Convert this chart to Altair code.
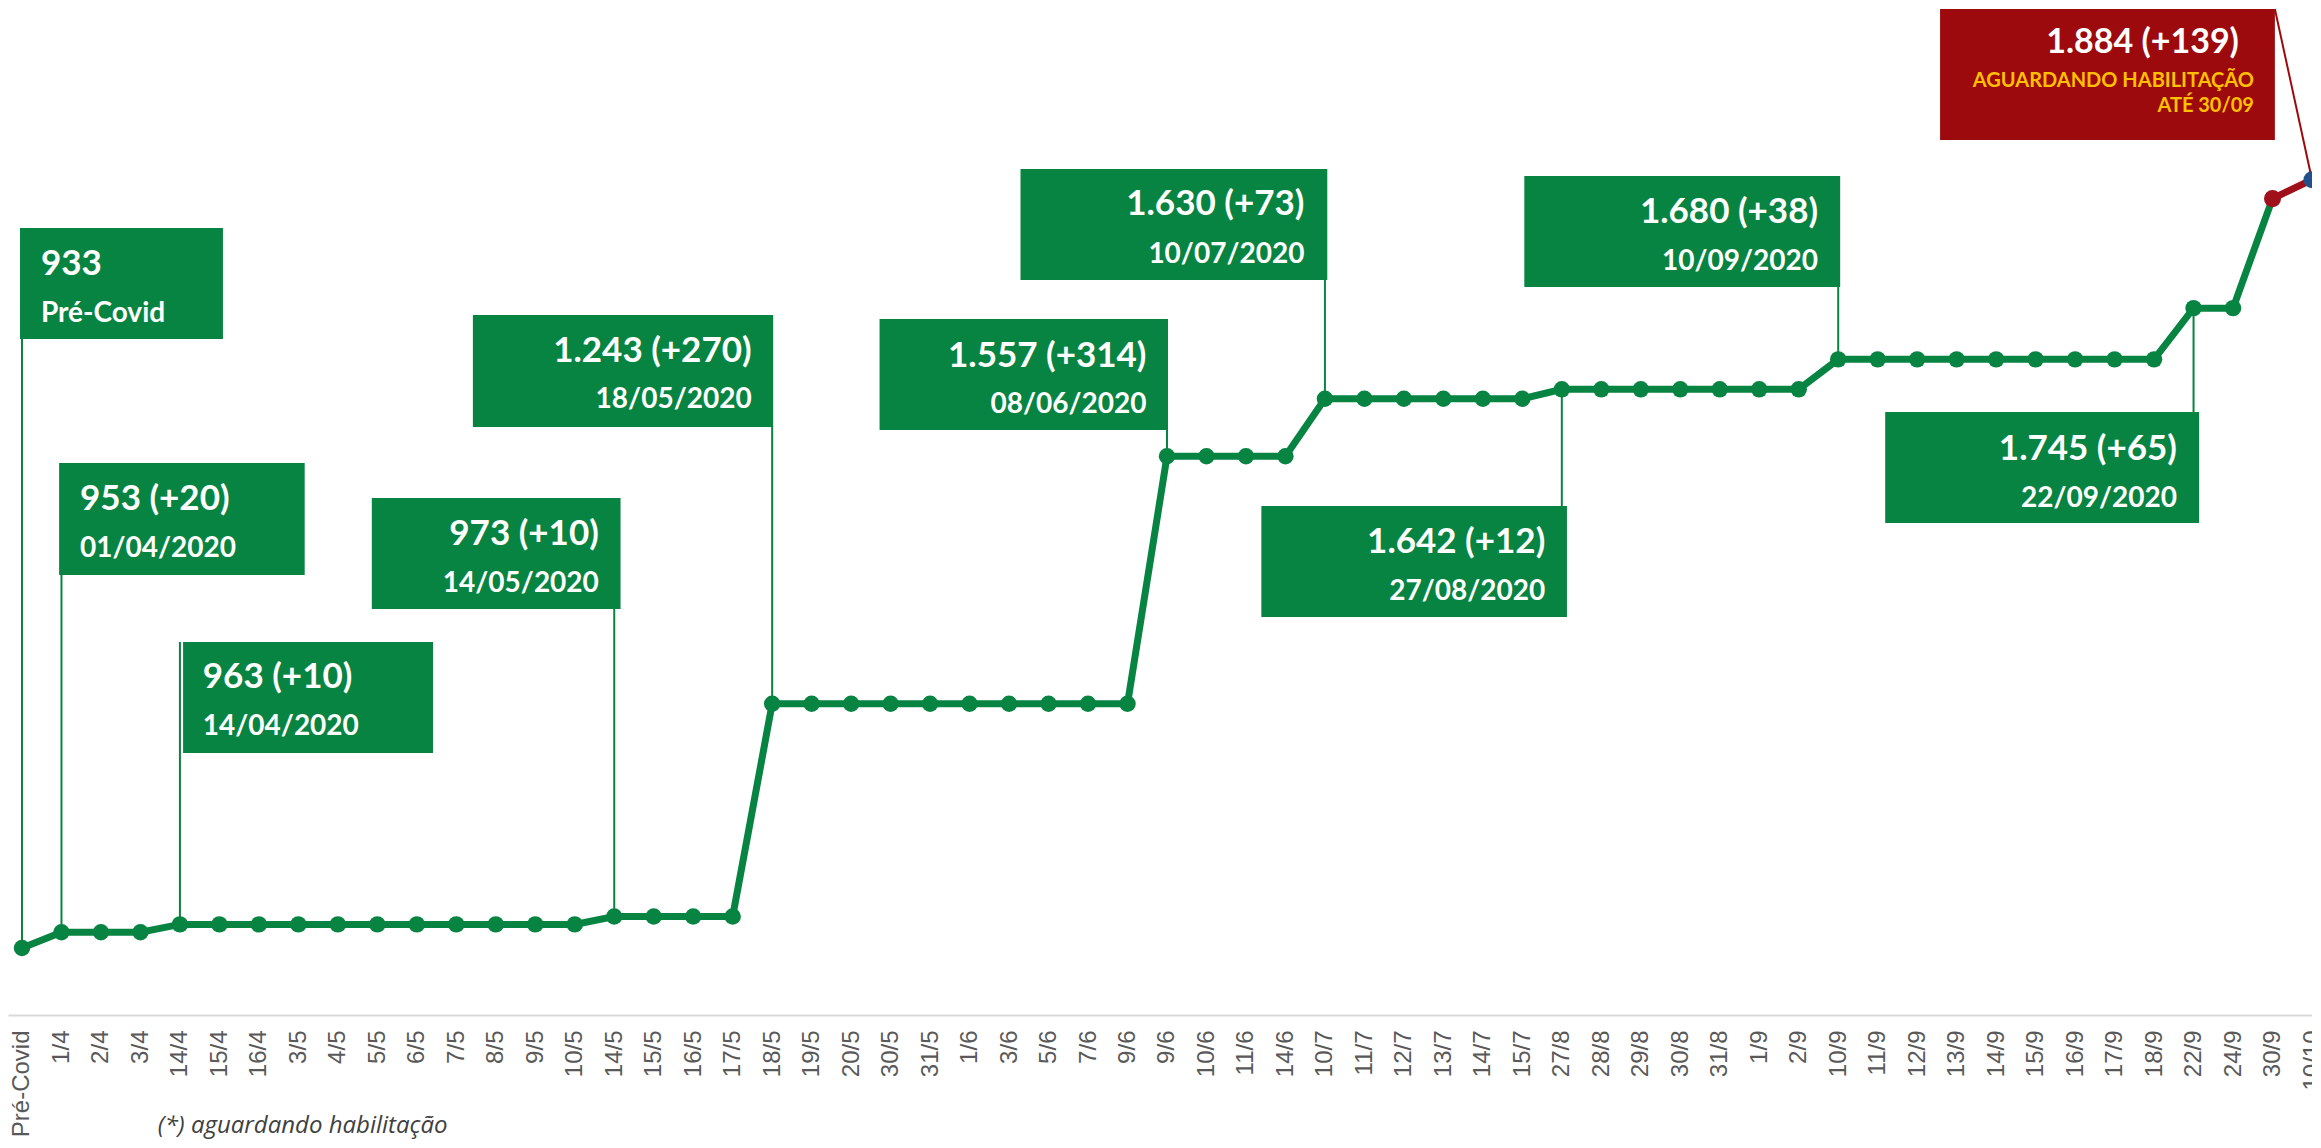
import json
import altair as alt
import pandas as pd

# ---------------- data ----------------
labels = ["Pré-Covid", "1/4", "2/4", "3/4", "14/4", "15/4", "16/4", "3/5", "4/5", "5/5",
          "6/5", "7/5", "8/5", "9/5", "10/5", "14/5", "15/5", "16/5", "17/5", "18/5",
          "19/5", "20/5", "30/5", "31/5", "1/6", "3/6", "5/6", "7/6", "9/6", "9/6",
          "10/6", "11/6", "14/6", "10/7", "11/7", "12/7", "13/7", "14/7", "15/7", "27/8",
          "28/8", "29/8", "30/8", "31/8", "1/9", "2/9", "10/9", "11/9", "12/9", "13/9",
          "14/9", "15/9", "16/9", "17/9", "18/9", "22/9", "24/9", "30/9", "10/10"]
values = ([933] + [953] * 3 + [963] * 11 + [973] * 4 + [1243] * 10 + [1557] * 4 +
          [1630] * 6 + [1642] * 7 + [1680] * 9 + [1745] * 2 + [1884, 1908])

# callout boxes (anchored on the series, placed in data units)
ann_idx = [0, 1, 4, 15, 19, 29, 33, 39, 46, 55]
ann_line1 = ["933", "953 (+20)", "963 (+10)", "973 (+10)", "1.243 (+270)", "1.557 (+314)",
             "1.630 (+73)", "1.642 (+12)", "1.680 (+38)", "1.745 (+65)"]
ann_line2 = ["Pré-Covid", "01/04/2020", "14/04/2020", "14/05/2020", "18/05/2020",
             "08/06/2020", "10/07/2020", "27/08/2020", "10/09/2020", "22/09/2020"]
box_x0 = [-0.05, 0.94, 4.08, 8.86, 11.42, 21.72, 25.29, 31.39, 38.05, 47.19]
box_x1 = [5.09, 7.16, 10.41, 15.16, 19.01, 29.01, 33.06, 39.13, 46.05, 55.14]
box_top = [1846.7, 1548.5, 1321.3, 1504.1, 1736.3, 1731.2, 1921.6, 1493.9, 1912.7, 1613.2]
box_bottom = [1705.8, 1406.4, 1180.5, 1363.2, 1594.2, 1590.4, 1780.7, 1353.1, 1771.8, 1472.3]
text_x = [0.48, 1.47, 4.58, 14.61, 18.48, 28.48, 32.48, 38.58, 45.49, 54.58]
base1 = [1787.1, 1488.8, 1263.0, 1444.4, 1676.7, 1670.3, 1863.2, 1434.3, 1853.1, 1552.3]
base2 = [1727.4, 1429.2, 1203.3, 1384.8, 1618.3, 1611.9, 1802.3, 1374.6, 1793.4, 1492.6]

red_box = {"x0": [48.58], "x1": [57.06], "top": [2124.6], "bottom": [1958.4]}
red_title = ["1.884 (+139)"]
red_title_pos = [56.15, 2068.8]
red_notes = ["AGUARDANDO HABILITAÇÃO", "ATÉ 30/09"]
red_notes_x = [56.53, 56.53]
red_notes_y = [2025.6, 1993.9]
red_link = {"x": [57.06], "x2": [58], "y": [2124.6], "y2": [values[58]]}

footnote = ["(*) aguardando habilitação"]
footnote_pos = [3.44, 698.0]

# ---------------- frames ----------------
df = pd.DataFrame({"idx": list(range(len(labels))), "label": labels, "value": values})
ann = pd.DataFrame({
    "k": list(range(len(ann_idx))), "idx": ann_idx, "v": [values[i] for i in ann_idx],
    "x0": box_x0, "x1": box_x1, "top": box_top, "bottom": box_bottom,
    "tx": text_x, "b1": base1, "b2": base2, "line1": ann_line1, "line2": ann_line2,
})
red_df = pd.DataFrame(red_box)
red_t = pd.DataFrame({"t": red_title, "x": [red_title_pos[0]], "y": [red_title_pos[1]]})
red_n = pd.DataFrame({"t": red_notes, "x": red_notes_x, "y": red_notes_y})
link_df = pd.DataFrame(red_link)
foot_df = pd.DataFrame({"t": footnote, "x": [footnote_pos[0]], "y": [footnote_pos[1]]})

# ---------------- styles ----------------
GREEN = "#088442"
RED = "#9C0A0E"
BLUE = "#24508A"
YELLOW = "#FFC000"
FONT = "Lato"

xs = alt.Scale(domain=[-0.3544, 58.0], nice=False, zero=False)
ys = alt.Scale(domain=[848.0, 2125.9], nice=False, zero=False)
label_expr = json.dumps(labels, ensure_ascii=False) + "[datum.value]"
x_axis = alt.Axis(values=list(range(len(labels))), labelExpr=label_expr, labelAngle=270,
                  labelAlign="right", labelBaseline="middle", labelFont="Liberation Sans",
                  labelFontSize=24, labelColor="#595959", labelPadding=15,
                  labelOverlap=False, labelFlush=False, labelBound=False,
                  ticks=False, tickSize=0, grid=False, domainColor="#d9d9d9",
                  domainWidth=2, title=None)


def X(f):
    return alt.X(f, type="quantitative", scale=xs, axis=x_axis)


def Y(f):
    return alt.Y(f, type="quantitative", scale=ys, axis=None)


connectors = alt.Chart(ann).mark_rule(color=GREEN, strokeWidth=2).encode(
    x=X("idx"), y=Y("v"), y2="top:Q")
boxes = alt.Chart(ann).mark_rect(color=GREEN).encode(
    x=X("x0"), x2="x1:Q", y=Y("top"), y2="bottom:Q")
redbox = alt.Chart(red_df).mark_rect(color=RED).encode(
    x=X("x0"), x2="x1:Q", y=Y("top"), y2="bottom:Q")
redlink = alt.Chart(link_df).mark_rule(color=RED, strokeWidth=2).encode(
    x=X("x"), x2="x2:Q", y=Y("y"), y2="y2:Q")

line_g = alt.Chart(df).transform_filter("datum.idx <= 57").mark_line(
    color=GREEN, strokeWidth=7).encode(x=X("idx"), y=Y("value"))
line_r = alt.Chart(df).transform_filter("datum.idx >= 57").mark_line(
    color="#A0101A", strokeWidth=7).encode(x=X("idx"), y=Y("value"))
pts_g = alt.Chart(df).transform_filter("datum.idx <= 56").mark_circle(
    color=GREEN, size=270, opacity=1).encode(x=X("idx"), y=Y("value"))
pts_r = alt.Chart(df).transform_filter("datum.idx == 57").mark_circle(
    color="#A0101A", size=290, opacity=1).encode(x=X("idx"), y=Y("value"))
pts_b = alt.Chart(df).transform_filter("datum.idx == 58").mark_circle(
    color=BLUE, size=290, opacity=1).encode(x=X("idx"), y=Y("value"))

left = alt.Chart(ann).transform_filter("datum.k < 3")
right = alt.Chart(ann).transform_filter("datum.k >= 3")
t_l1 = left.mark_text(align="left", baseline="alphabetic", font=FONT, fontWeight="bold",
                      fontSize=35, color="white").encode(x=X("tx"), y=Y("b1"), text="line1:N")
t_l2 = left.mark_text(align="left", baseline="alphabetic", font=FONT, fontWeight="bold",
                      fontSize=28, color="white").encode(x=X("tx"), y=Y("b2"), text="line2:N")
t_r1 = right.mark_text(align="right", baseline="alphabetic", font=FONT, fontWeight="bold",
                       fontSize=35, color="white").encode(x=X("tx"), y=Y("b1"), text="line1:N")
t_r2 = right.mark_text(align="right", baseline="alphabetic", font=FONT, fontWeight="bold",
                       fontSize=28, color="white").encode(x=X("tx"), y=Y("b2"), text="line2:N")
t_red = alt.Chart(red_t).mark_text(align="right", baseline="alphabetic", font=FONT,
                                   fontWeight="bold", fontSize=34, color="white").encode(
    x=X("x"), y=Y("y"), text="t:N")
t_note = alt.Chart(red_n).mark_text(align="right", baseline="alphabetic", font=FONT,
                                    fontWeight="bold", fontSize=20, color=YELLOW).encode(
    x=X("x"), y=Y("y"), text="t:N")
t_foot = alt.Chart(foot_df).mark_text(align="left", baseline="alphabetic", font="Open Sans",
                                      fontStyle="italic", fontSize=24, color="#404040").encode(
    x=X("x"), y=Y("y"), text="t:N")

chart = alt.layer(
    connectors, boxes, redbox, redlink, line_g, line_r, pts_g, pts_r, pts_b,
    t_l1, t_l2, t_r1, t_r2, t_red, t_note, t_foot
).properties(
    width=2304, height=1007,
    autosize=alt.AutoSizeParams(type="none"),
    padding={"left": 0, "top": 0, "right": 0, "bottom": 124},
).configure_view(strokeWidth=0)

chart.save("out.html", embed_options={"renderer": "svg", "actions": False})
